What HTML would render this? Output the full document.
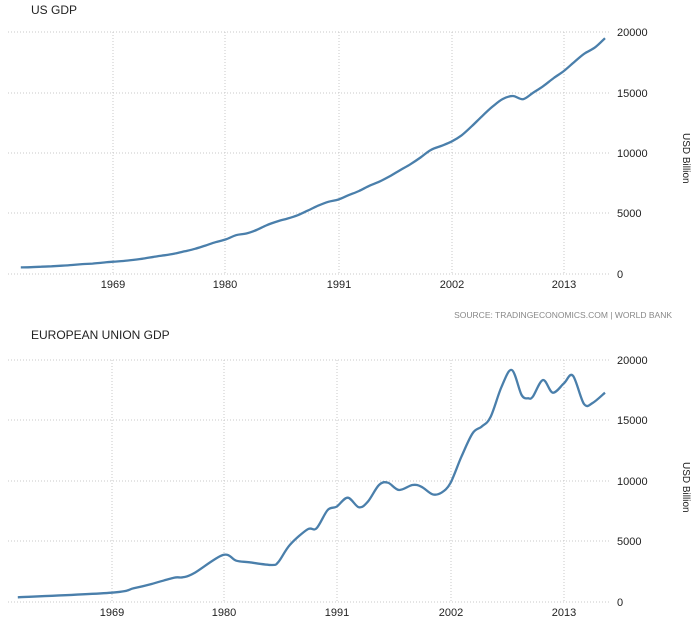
<!DOCTYPE html>
<html><head><meta charset="utf-8"><style>
html,body{margin:0;padding:0;background:#fff;width:699px;height:628px;overflow:hidden}
svg{display:block}
text{font-family:"Liberation Sans Narrow","Liberation Sans",sans-serif;fill:#222}
</style></head><body>
<svg id="s" width="699" height="628" viewBox="0 0 699 628" xmlns="http://www.w3.org/2000/svg">
<g id="grid" stroke="#c8c8c8" stroke-width="1" stroke-dasharray="1,2" fill="none"></g>
<text x="31" y="14" font-size="12">US GDP</text>
<text x="31" y="339" font-size="12">EUROPEAN UNION GDP</text>
<g font-size="11" text-anchor="start">
<text x="617" y="36">20000</text><text x="617" y="97">15000</text><text x="617" y="157">10000</text><text x="617" y="217">5000</text><text x="617" y="278">0</text>
<text x="617" y="364">20000</text><text x="617" y="424">15000</text><text x="617" y="485">10000</text><text x="617" y="545">5000</text><text x="617" y="606">0</text>
</g>
<g font-size="11" text-anchor="middle">
<text x="113" y="288">1969</text><text x="225" y="288">1980</text><text x="339" y="288">1991</text><text x="452" y="288">2002</text><text x="564" y="288">2013</text>
<text x="112" y="616">1969</text><text x="224" y="616">1980</text><text x="337" y="616">1991</text><text x="451" y="616">2002</text><text x="564" y="616">2013</text>
</g>
<text font-size="10" transform="translate(683,133) rotate(90)">USD Billion</text>
<text font-size="10" transform="translate(683,462) rotate(90)">USD Billion</text>
<text x="672" y="318" font-size="8.5" text-anchor="end" style="fill:#888">SOURCE: TRADINGECONOMICS.COM | WORLD BANK</text>
<path id="us" fill="none" stroke="#4a7fab" stroke-width="2.3"/>
<path id="eu" fill="none" stroke="#4a7fab" stroke-width="2.3"/>
</svg>
<script>
var g=document.getElementById('grid'),h='';
[32,93,153,213,274].forEach(function(y){h+='<line x1="8" x2="611" y1="'+y+'" y2="'+y+'"/>';});
[360,420,481,541,602].forEach(function(y){h+='<line x1="8" x2="611" y1="'+y+'" y2="'+y+'"/>';});
[113,225,339,452,564].forEach(function(x){h+='<line x1="'+x+'" x2="'+x+'" y1="32" y2="274"/>';});
[112,224,337,451,564].forEach(function(x){h+='<line x1="'+x+'" x2="'+x+'" y1="360" y2="602"/>';});
g.innerHTML=h;
function cr(p){var d='M'+p[0][0].toFixed(1)+','+p[0][1].toFixed(1);
for(var i=0;i<p.length-1;i++){var a=p[i-1]||p[i],b=p[i],c=p[i+1],e=p[i+2]||c;
d+=' C'+(b[0]+(c[0]-a[0])/6).toFixed(1)+','+(b[1]+(c[1]-a[1])/6).toFixed(1)+' '+(c[0]-(e[0]-b[0])/6).toFixed(1)+','+(c[1]-(e[1]-b[1])/6).toFixed(1)+' '+c[0].toFixed(1)+','+c[1].toFixed(1);}
return d;}
var us=[543,563,605,638,686,743,815,861,942,1019,1073,1164,1279,1425,1545,1684,1873,2081,2351,2627,2857,3207,3343,3634,4037,4339,4579,4855,5236,5641,5963,6158,6520,6858,7287,7639,8073,8577,9062,9631,10252,10582,10936,11458,12214,13037,13815,14452,14713,14449,14992,15543,16197,16785,17522,18219,18707,19485];
var pu=us.map(function(v,i){return [20.75+i*10.25,274-v*60.5/5000];});
document.getElementById('us').setAttribute('d',cr(pu));
var ez=[[40,862],[250,848],[300,835],[340,822],[390,803],[410,802],[435,790],[500,735],[530,752],[560,757],[610,765],[625,755],[650,705],[690,658],[710,655],[735,600],[755,590],[780,563],[805,592],[825,575],[850,525],[870,518],[895,540],[925,525],[945,530],[970,553],[990,548],[1010,520],[1035,440],[1060,370],[1080,350],[1100,322],[1125,230],[1148,180],[1170,255],[1185,265],[1195,260],[1218,210],[1240,248],[1265,220],[1285,197],[1310,282],[1330,278],[1357,248]];
var pe=ez.map(function(p){return [p[0]/2.243,p[1]/3+310];});
document.getElementById('eu').setAttribute('d',cr(pe));
</script>
</body></html>
